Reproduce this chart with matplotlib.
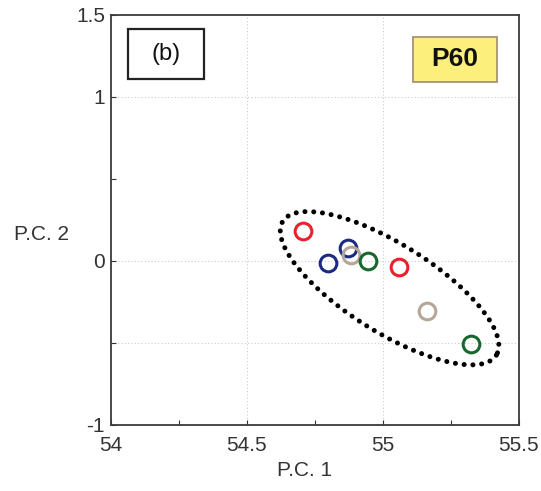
import numpy as np
import matplotlib
matplotlib.use("Agg")
import matplotlib.pyplot as plt
from matplotlib.patches import Rectangle

plt.rcParams['font.family'] = ['Liberation Sans', 'DejaVu Sans']

# PCA scores per sample group
red_pc1 = [54.709, 55.062]
red_pc2 = [0.182, -0.035]
navy_pc1 = [54.801, 54.874]
navy_pc2 = [-0.011, 0.079]
tan_pc1 = [54.883, 55.163]
tan_pc2 = [0.035, -0.307]
green_pc1 = [54.948, 55.324]
green_pc2 = [-0.002, -0.506]

x_ticks = [54.0, 54.25, 54.5, 54.75, 55.0, 55.25, 55.5]
x_ticklabels = ['54', '', '54.5', '', '55', '', '55.5']
y_ticks = [-1.0, -0.5, 0.0, 0.5, 1.0, 1.5]
y_ticklabels = ['-1', '', '0', '', '1', '1.5']

W, H = 541, 491
fig = plt.figure(figsize=(W / 100, H / 100), dpi=100)
ax = fig.add_axes([110.5 / W, 1 - 425 / H, 408 / W, 410 / H])

ax.set_xlim(54, 55.5)
ax.set_ylim(-1, 1.5)

# dotted grid
for gx in [54.5, 55.0]:
    ax.axvline(gx, color='#cccccc', lw=0.8, ls=(0, (1, 2)), zorder=0)
for gy in [-0.5, 0.0, 1.0]:
    ax.axhline(gy, color='#cccccc', lw=0.8, ls=(0, (1, 2)), zorder=0)

groups = [
    (red_pc1, red_pc2, '#e8212b'),
    (navy_pc1, navy_pc2, '#1b2a82'),
    (tan_pc1, tan_pc2, '#b5a697'),
    (green_pc1, green_pc2, '#17672f'),
]
for xs, ys, c in groups:
    ax.plot(xs, ys, ls='none', marker='o', ms=12, mfc='none', mec=c, mew=2.2, zorder=3)

# dotted ellipse enclosing the cluster
t = np.linspace(0, 2 * np.pi, 600)
cx, cy = 55.026, -0.166
u = np.array([0.3926, -0.408])
v = np.array([-0.0857, -0.228])
ex = cx + u[0] * np.cos(t) + v[0] * np.sin(t)
ey = cy + u[1] * np.cos(t) + v[1] * np.sin(t)
ax.plot(ex, ey, color='black', lw=3.6, ls=(0, (0.01, 1.75)),
        dash_capstyle='round', solid_capstyle='round', zorder=2)

ax.set_xticks(x_ticks)
ax.set_xticklabels(x_ticklabels)
ax.set_yticks(y_ticks)
ax.set_yticklabels(y_ticklabels)
ax.tick_params(direction='in', length=3.5, width=0.8, labelsize=15, colors='#333333')
ax.tick_params(axis='x', pad=8)
ax.tick_params(axis='y', pad=4)
for s in ax.spines.values():
    s.set_linewidth(1.3)
    s.set_color('#3a3a3a')

fig.text(305 / W, 1 - 470 / H, 'P.C. 1', fontsize=15, color='#333333', ha='center', va='center')
fig.text(41 / W, 1 - 234 / H, 'P.C. 2', fontsize=15, color='#333333', ha='center', va='center')

# panel label box
ax.add_patch(Rectangle(((128 - 110.5) / 408, (425 - 79) / 410), 76 / 408, 50 / 410,
                       transform=ax.transAxes, fc='white', ec='#222222', lw=1.6, zorder=4))
ax.text((166 - 110.5) / 408, (425 - 54) / 410, '(b)', transform=ax.transAxes,
        fontsize=17, ha='center', va='center', color='#111111', zorder=5)

# condition tag box
ax.add_patch(Rectangle(((413 - 110.5) / 408, (425 - 82) / 410), 84 / 408, 45 / 410,
                       transform=ax.transAxes, fc='#fcef7c', ec='#9c8c6c', lw=1.2, zorder=4))
ax.text((455 - 110.5) / 408, (425 - 59) / 410, 'P60', transform=ax.transAxes,
        fontsize=19, fontweight='bold', ha='center', va='center', color='#111111',
        family=['Liberation Sans Narrow', 'Liberation Sans', 'DejaVu Sans'], zorder=5)

fig.savefig('out.png', dpi=100, facecolor='white')
